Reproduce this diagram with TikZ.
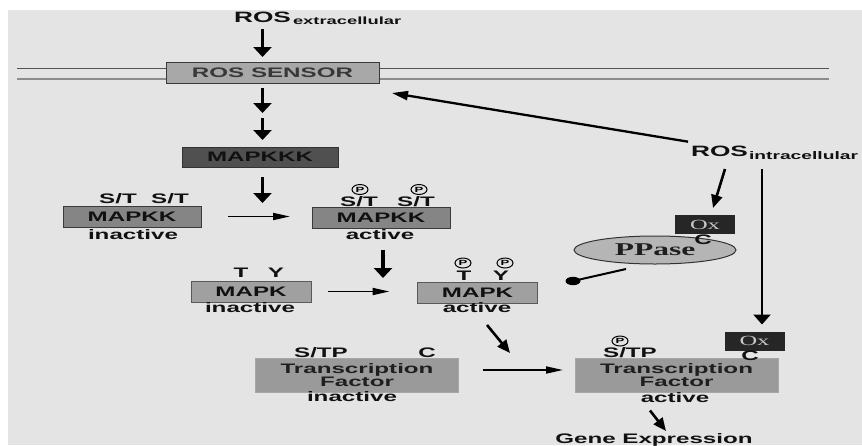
\documentclass[tikz,border=0pt]{standalone}
\usepackage{fontspec}
\usepackage{graphicx}
\setmainfont{Liberation Sans}
\newfontfamily\srf{Liberation Serif}
\usetikzlibrary{arrows.meta,shapes.geometric}
\definecolor{bgc}{HTML}{E4E4E4}
\definecolor{sensorc}{HTML}{A8A8A8}
\definecolor{kkkc}{HTML}{505050}
\definecolor{kkc}{HTML}{858585}
\definecolor{kc}{HTML}{A0A0A0}
\definecolor{tfc}{HTML}{9A9A9A}
\definecolor{oxc}{HTML}{262626}
\definecolor{oxt}{HTML}{C8C8C8}
\definecolor{ppc}{HTML}{B5B5B5}
\definecolor{edgec}{HTML}{3A3A3A}
\definecolor{txtc}{HTML}{111111}
\newcommand\W[1]{\scalebox{1.75}[1]{#1}}
\newcommand\lab{\bfseries\fontsize{13.8}{13}\selectfont}
\begin{document}
\begin{tikzpicture}[x=1pt,y=-1pt,
  every node/.style={inner sep=0pt,outer sep=0pt},
  txt/.style={font=\lab,text=txtc},
  boxbase/.style={rectangle,font=\lab,align=center,text=txtc},
  sensorbox/.style={boxbase,draw=edgec,line width=1pt,fill=sensorc,text=black!78,minimum width=213pt,minimum height=21pt},
  kkkbox/.style={boxbase,draw=black!80,line width=1pt,fill=kkkc,minimum width=156pt,minimum height=20pt},
  kkbox/.style={boxbase,draw=edgec,line width=1pt,fill=kkc,minimum width=138pt,minimum height=21pt},
  kbox/.style={boxbase,draw=black!65,line width=1pt,fill=kc,minimum width=120pt,minimum height=21pt},
  tfbox/.style={boxbase,fill=tfc,draw=black!35,line width=0.6pt,minimum width=203pt,minimum height=34pt,text=black!88},
  oxbox/.style={rectangle,fill=oxc,text=oxt,font=\srf\fontsize{14}{14}\selectfont,minimum width=60pt,minimum height=19pt},
  ppbox/.style={ellipse,fill=ppc,draw=black!80,line width=1pt,minimum width=162pt,minimum height=28pt,font=\srf\bfseries\fontsize{18}{18}\selectfont,text=black!88},
  cp/.style={ellipse,draw=black,line width=1pt,minimum width=16pt,minimum height=10pt,font=\bfseries\fontsize{7.5}{7.5}\selectfont},
  varrow/.style={line width=3.3pt,-{Triangle[width=18pt,length=10pt]}},
  vlarrow/.style={line width=2.6pt,-{Triangle[width=17pt,length=10pt]}},
  harrow/.style={line width=1.8pt,-{Triangle[width=7pt,length=17pt]}},
  darrow/.style={line width=2.6pt,-{Triangle[width=11pt,length=13pt]}},
  rarrow/.style={line width=2.3pt,-{Triangle[width=9pt,length=16pt]}},
  memline/.style={line width=1pt}
]
\clip (0,0) rectangle (862,445);
\fill[white] (0,0) rectangle (862,445);
\fill[bgc] (8,10) rectangle (862,445);

% membrane
\draw[memline,draw=black!68] (17,68) -- (829,68);
\draw[memline,draw=black!45,line width=1.2pt] (17,79) -- (829,79);

% boxes
\node[sensorbox] (sensor) at (272.5,72.5) {\W{ROS SENSOR}};
\node[kkkbox] (mapkkk) at (260,157) {\W{MAPKKK}};
\node[kkbox] (mapkki) at (132,216.5) {\W{MAPKK}};
\node[kkbox] (mapkka) at (381,218) {\W{MAPKK}};
\node[kbox] (mapki) at (251,291.5) {\W{MAPK}};
\node[kbox] (mapka) at (477.5,293) {\W{MAPK}};
\node[tfbox] (tfi) at (357,375) {\W{Transcription}\\\W{Factor}};
\node[tfbox] (tfa) at (676.5,375.5) {\W{Transcription}\\\W{Factor}};
\node[ppbox] (ppase) at (655,250) {\W{PPase}};
\node[oxbox] (ox1) at (705,224.5) {\W{Ox}};
\node[oxbox] (ox2) at (754.5,341) {\W{Ox}};

% ROS texts
\node[txt] (rosx) at (262.5,17) {\fontsize{15}{15}\selectfont\W{ROS}};
\node[txt,anchor=west] (rosxsub) at (293,21) {\fontsize{10.5}{10.5}\selectfont\W{extracellular}};
\node[txt] (rosi) at (719.5,151) {\fontsize{15}{15}\selectfont\W{ROS}};
\node[txt,anchor=west] (rosisub) at (749,156) {\fontsize{11}{11}\selectfont\W{intracellular}};

% labels
\node[txt] (st1) at (118,199) {\W{S/T}};
\node[txt] (st2) at (170,199) {\W{S/T}};
\node[txt] (ina1) at (133,235) {\W{inactive}};
\node[cp] (p1) at (360,189.5) {\W{P}};
\node[cp] (p2) at (419,189.5) {\W{P}};
\node[txt] (st3) at (359,201.5) {\W{S/T}};
\node[txt] (st4) at (416,201.5) {\W{S/T}};
\node[txt] (act1) at (380,235) {\W{active}};
\node[txt] (t1) at (241,273) {\W{T}};
\node[txt] (y1) at (276,273) {\W{Y}};
\node[txt] (ina2) at (250,308) {\W{inactive}};
\node[cp] (p3) at (463,263) {\W{P}};
\node[cp] (p4) at (505,263) {\W{P}};
\node[txt] (t2) at (464,275.5) {\W{T}};
\node[txt] (y2) at (501,275.5) {\W{Y}};
\node[txt] (act2) at (477,308) {\W{active}};
\node[txt] (stp1) at (321,353) {\W{S/TP}};
\node[txt] (c1) at (427,353) {\W{C}};
\node[txt] (ina3) at (352,397) {\W{inactive}};
\node[cp] (p5) at (620,341) {\W{P}};
\node[txt] (stp2) at (630,353) {\W{S/TP}};
\node[txt] (c2) at (750,356) {\W{C}};
\node[txt] (act3) at (675,398) {\W{active}};
\node[txt] (c3) at (703,239.5) {\W{C}};
\node[txt,anchor=base] (gene) at (654,443.5) {\W{Gene Expression}};

% arrows
\draw[varrow,shorten <=6.5pt,shorten >=5pt] (rosx.south) -- (rosx.south |- sensor.north);
\coordinate (m1) at (262.5,115.5);
\draw[varrow,shorten <=5pt,shorten >=2.5pt] (m1 |- sensor.south) -- (m1);
\draw[varrow,shorten <=2.5pt,shorten >=7pt] (m1) -- (m1 |- mapkkk.north);
\coordinate (m3) at (262.5,203);
\draw[varrow,shorten <=10pt] (m3 |- mapkkk.south) -- (m3);
\draw[harrow,shorten <=27pt,shorten >=22pt] (mapkki.east) -- (mapkki.east -| mapkka.west);
\coordinate (m5) at (383,278);
\draw[varrow,shorten <=21pt] (m5 |- mapkka.south) -- (m5);
\draw[harrow,shorten <=17pt,shorten >=28pt] (mapki.east) -- (mapki.east -| mapka.west);
\coordinate (m7s) at (487,325);
\coordinate (m7e) at (510,353);
\draw[darrow] (m7s) -- (m7e);
\path (tfi.east) ++(24,-5) coordinate (m8s);
\path (tfa.west) ++(-12,-5.5) coordinate (m8e);
\draw[harrow] (m8s) -- (m8e);
\path (tfa.south) ++(-26.5,18) coordinate (m9s);
\coordinate (m9e) at (666,431);
\draw[darrow] (m9s) -- (m9e);
\path (rosi.north west) ++(-3,-4) coordinate (m10s);
\path (sensor.south east) ++(13,10) coordinate (m10e);
\draw[rarrow] (m10s) -- (m10e);
\coordinate (m11s) at (725,169);
\path (ox1.north) ++(8,-7) coordinate (m11e);
\draw[darrow] (m11s) -- (m11e);
\coordinate (m12s) at (762,169);
\path (ox2.north) ++(7.5,-7) coordinate (m12e);
\draw[vlarrow] (m12s) -- (m12e);
\coordinate (m13s) at (626,269);
\coordinate (m13e) at (573,281);
\draw[line width=2pt] (m13s) -- (m13e);
\fill (m13e) ellipse [x radius=7.5,y radius=4.2];
\end{tikzpicture}
\end{document}
